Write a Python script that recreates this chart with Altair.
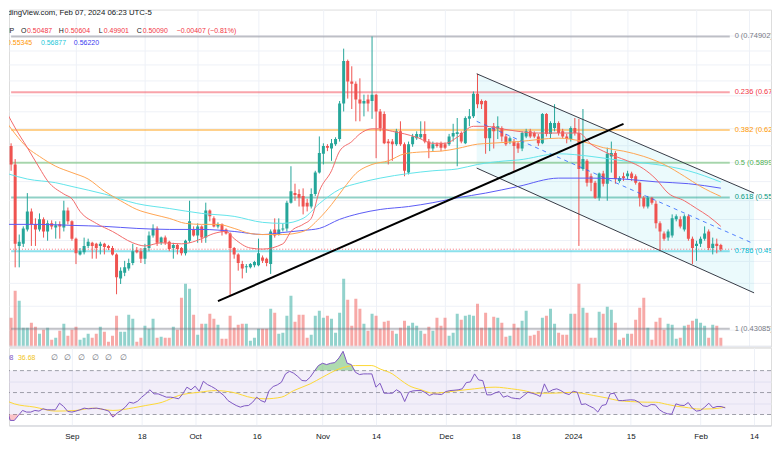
import altair as alt
import pandas as pd
from datetime import datetime, timezone

FONT = "Liberation Sans"

# ---------------- data (daily candles from 2023-08-15) ----------------
start_day = "2023-08-15"
opens = [
    .635, .609, .588, .504, .506, .520, .538, .525, .520, .530,
    .518, .526, .522, .525, .522, .539, .528, .511, .496, .498,
    .504, .507, .506, .504, .506, .504, .502, .496, .474, .479,
    .483, .488, .500, .499, .492, .502, .514, .521, .507, .512,
    .508, .502, .505, .502, .497, .509, .520, .514, .523, .512,
    .539, .531, .523, .525, .520, .516, .502, .496, .487, .484,
    .484, .486, .486, .493, .492, .487, .520, .515, .520, .521,
    .547, .557, .556, .554, .547, .543, .556, .579, .600, .609,
    .606, .611, .617, .660, .715, .688, .685, .665, .660, .665,
    .663, .671, .650, .647, .614, .614, .611, .626, .611, .579,
    .611, .618, .619, .623, .614, .606, .611, .612, .611, .611,
    .620, .623, .624, .612, .641, .644, .672, .663, .663, .618,
    .632, .629, .630, .620, .614, .614, .612, .606, .620, .626,
    .624, .620, .612, .647, .623, .630, .636, .626, .620, .617,
    .630, .624, .583, .592, .575, .568, .552, .578, .567, .597,
    .601, .570, .575, .575, .578, .575, .568, .552, .543, .552,
    .546, .526, .516, .512, .514, .530, .530, .520, .533, .511,
    .504, .506, .511, .518, .502, .506, .50487,
]
highs = [
    .641, .612, .594, .515, .523, .557, .541, .531, .536, .532,
    .529, .529, .528, .528, .549, .542, .529, .512, .502, .512,
    .511, .508, .507, .508, .507, .505, .504, .497, .484, .490,
    .492, .506, .503, .502, .506, .518, .525, .523, .513, .514,
    .509, .507, .506, .503, .510, .549, .523, .526, .524, .547,
    .540, .533, .527, .526, .521, .517, .503, .497, .490, .487,
    .488, .490, .511, .495, .493, .520, .531, .531, .526, .549,
    .586, .567, .561, .562, .551, .562, .581, .620, .612, .611,
    .617, .619, .663, .732, .717, .708, .688, .692, .671, .671,
    .74902, .672, .653, .650, .617, .617, .629, .638, .613, .614,
    .623, .626, .638, .638, .617, .614, .613, .614, .613, .623,
    .635, .642, .626, .644, .653, .675, .698, .665, .664, .630,
    .636, .644, .632, .623, .620, .617, .614, .626, .629, .629,
    .626, .623, .648, .648, .638, .659, .638, .629, .623, .632,
    .642, .641, .653, .594, .578, .570, .579, .581, .607, .614,
    .603, .575, .579, .581, .580, .577, .569, .554, .554, .553,
    .549, .528, .518, .520, .535, .535, .533, .535, .535, .513,
    .509, .513, .523, .520, .512, .511, .50604,
]
lows = [
    .607, .581, .484, .484, .503, .518, .504, .504, .518, .512,
    .509, .520, .511, .511, .518, .525, .509, .487, .495, .496,
    .502, .492, .492, .496, .496, .500, .495, .460, .469, .476,
    .481, .486, .497, .488, .487, .499, .512, .504, .505, .505,
    .499, .492, .496, .495, .495, .507, .513, .507, .507, .507,
    .528, .522, .521, .514, .515, .459, .492, .481, .474, .479,
    .483, .484, .485, .488, .485, .478, .512, .514, .518, .518,
    .546, .549, .543, .535, .538, .541, .554, .578, .588, .603,
    .592, .609, .614, .650, .666, .653, .638, .638, .644, .650,
    .641, .595, .626, .611, .588, .592, .609, .609, .575, .577,
    .608, .616, .617, .612, .595, .603, .607, .603, .605, .609,
    .614, .586, .612, .611, .632, .642, .654, .653, .600, .603,
    .606, .617, .614, .609, .611, .581, .601, .603, .618, .618,
    .618, .609, .611, .620, .618, .626, .621, .618, .612, .614,
    .621, .504, .581, .564, .559, .551, .549, .564, .549, .579,
    .567, .568, .570, .572, .570, .566, .543, .541, .541, .545,
    .521, .499, .509, .509, .512, .528, .521, .518, .509, .487,
    .490, .503, .509, .500, .496, .497, .49901,
]
closes = [
    .611, .588, .506, .508, .521, .538, .525, .520, .530, .518,
    .526, .523, .524, .523, .539, .528, .511, .497, .499, .504,
    .508, .504, .502, .506, .503, .502, .496, .475, .481, .484,
    .488, .499, .498, .492, .502, .514, .521, .507, .512, .507,
    .501, .505, .501, .497, .509, .528, .514, .523, .512, .539,
    .533, .523, .525, .518, .516, .502, .496, .488, .483, .485,
    .487, .489, .497, .490, .488, .518, .514, .520, .521, .547,
    .559, .555, .552, .543, .543, .556, .579, .601, .609, .607,
    .612, .617, .660, .715, .688, .685, .665, .660, .663, .660,
    .671, .650, .630, .612, .612, .611, .626, .611, .581, .611,
    .620, .623, .623, .614, .606, .611, .609, .607, .607, .620,
    .624, .625, .614, .642, .644, .672, .659, .659, .618, .630,
    .626, .632, .620, .611, .618, .609, .606, .624, .626, .620,
    .620, .612, .647, .623, .636, .636, .624, .620, .617, .630,
    .624, .583, .594, .568, .568, .552, .578, .567, .600, .601,
    .572, .573, .573, .578, .573, .568, .552, .543, .552, .547,
    .526, .518, .511, .518, .531, .533, .523, .533, .511, .502,
    .506, .511, .516, .502, .506, .504, .50090,
]
volumes = [
    29, 29, 56, 46, 19, 19, 24, 20, 13, 17,
    19, 7, 9, 16, 23, 11, 17, 20, 7, 9,
    13, 9, 13, 20, 15, 5, 11, 31, 15, 15,
    32, 28, 5, 9, 21, 18, 28, 9, 10, 9,
    9, 20, 17, 49, 63, 58, 32, 12, 23, 23,
    33, 28, 22, 8, 8, 31, 19, 22, 23, 23,
    6, 9, 18, 18, 18, 38, 34, 13, 14, 31,
    51, 25, 32, 32, 9, 12, 31, 36, 29, 31,
    28, 14, 34, 68, 47, 21, 48, 38, 23, 16,
    33, 31, 18, 25, 26, 16, 13, 19, 26, 21,
    24, 21, 16, 13, 20, 16, 29, 21, 29, 11,
    14, 33, 27, 31, 32, 31, 43, 19, 34, 19,
    30, 29, 24, 10, 11, 23, 19, 26, 36, 11,
    12, 16, 29, 31, 38, 23, 14, 12, 12, 33,
    33, 63, 39, 34, 9, 9, 35, 33, 40, 37,
    24, 7, 9, 13, 13, 27, 39, 49, 19, 7,
    25, 29, 17, 23, 22, 8, 9, 21, 22, 26,
    28, 24, 21, 9, 22, 21, 9,
]
rsi = [
    45.8, 38.2, 24.6, 24.6, 29.1, 33.7, 32.2, 32.2, 33.7, 33.1,
    35.2, 34.3, 34.3, 34.3, 40.3, 37.3, 32.8, 32.2, 33.1, 34.3,
    35.8, 35.2, 35.5, 35.8, 35.2, 34.3, 33.1, 27.6, 31.2, 33.7,
    36.7, 41.2, 40.3, 42.1, 45.8, 48.8, 52.5, 48.8, 48.8, 47.3,
    45.8, 45.8, 45.2, 44.3, 48.8, 54.9, 52.5, 55.8, 51.2, 60.3,
    57.3, 55.5, 53.3, 50.3, 47.3, 42.7, 40.3, 38.2, 36.7, 37.9,
    38.2, 41.2, 45.8, 42.7, 41.2, 51.8, 55.5, 57.0, 59.4, 67.0,
    69.4, 67.6, 64.6, 61.0, 60.6, 64.0, 69.4, 74.6, 76.7, 75.5,
    76.7, 77.3, 81.5, 87.6, 76.7, 75.5, 68.5, 66.4, 67.0, 67.0,
    67.0, 54.9, 58.5, 49.4, 49.4, 49.4, 52.5, 50.3, 41.8, 50.3,
    51.5, 51.8, 51.8, 50.0, 47.3, 48.8, 48.5, 48.2, 50.9, 51.8,
    52.1, 52.5, 53.4, 59.1, 59.7, 67.0, 61.5, 60.9, 47.9, 47.9,
    49.7, 50.9, 45.8, 47.0, 45.2, 44.6, 44.3, 47.3, 50.3, 49.4,
    48.2, 46.4, 57.9, 50.3, 52.5, 53.4, 51.8, 49.4, 48.2, 51.2,
    50.3, 39.1, 39.7, 37.6, 35.8, 32.2, 38.2, 39.1, 48.8, 49.4,
    42.7, 42.7, 43.1, 43.4, 43.1, 41.2, 37.9, 37.3, 39.1, 38.8,
    34.3, 31.9, 30.6, 30.3, 39.7, 38.5, 38.2, 40.9, 35.8, 33.1,
    33.7, 36.7, 40.3, 36.1, 37.3, 37.3, 36.08,
]
rsi_ma_day = [0, 3, 8, 13, 18, 22, 27, 32, 35, 39, 43, 48, 52, 56, 61, 64, 68, 71, 75, 78,
              82, 86, 90, 92, 95, 97, 99, 102, 105, 108, 111, 115, 117, 120, 124, 127, 130,
              134, 139, 141, 144, 147, 150, 153, 157, 159, 162, 164, 166, 170, 173, 176]
rsi_ma_val = [44.3, 39.7, 36.7, 33.1, 33.7, 35.8, 33.7, 36.1, 38.2, 41.2, 47.3, 50.3, 51.8,
              50.3, 45.2, 44.3, 45.8, 51.8, 57.9, 64.0, 71.5, 74.6, 74.6, 71.5, 67.0, 61.5,
              56.4, 52.5, 49.4, 50.3, 51.8, 53.4, 54.3, 54.9, 53.4, 51.8, 49.4, 49.4, 50.3,
              49.4, 47.3, 45.2, 42.7, 41.8, 41.2, 41.2, 39.1, 37.6, 36.7, 34.9, 35.2, 36.68]

# moving averages
ma_red_day = [0, 2, 5, 8, 10, 14, 16, 18, 22, 26, 31, 34, 38, 43, 45, 48, 51, 54, 56, 60, 63,
              68, 70, 73, 75, 77, 80, 82, 85, 87, 90, 92, 95, 98, 101, 105, 108, 111, 115,
              118, 122, 126, 131, 136, 141, 144, 147, 150, 153, 157, 160, 163, 167, 170, 173, 176]
ma_red_val = [.648, .630, .607, .584, .570, .556, .551, .538, .526, .518, .507, .504, .507,
              .506, .507, .511, .516, .518, .511, .502, .501, .506, .518, .525, .531, .559,
              .581, .603, .614, .623, .629, .629, .626, .623, .619, .612, .612, .619, .632,
              .632, .629, .626, .624, .624, .624, .611, .603, .597, .592, .583, .572, .557,
              .549, .541, .533, .523]
ma_orange_day = [0, 2, 5, 8, 12, 16, 20, 24, 28, 32, 36, 40, 44, 48, 52, 56, 60, 63, 68, 73,
                 77, 80, 83, 86, 90, 94, 98, 102, 107, 111, 116, 119, 126, 136, 142, 147, 152,
                 157, 162, 167, 171, 176]
ma_orange_val = [.636, .623, .607, .597, .586, .579, .572, .559, .549, .540, .535, .531, .526,
                 .525, .525, .521, .516, .515, .515, .518, .531, .545, .562, .578, .588, .592,
                 .600, .602, .603, .606, .611, .612, .614, .618, .614, .607, .603, .597, .588,
                 .575, .564, .55345]
ma_cyan_day = [0, 5, 12, 16, 24, 32, 40, 48, 56, 63, 68, 73, 77, 82, 87, 92, 99, 105, 111,
               116, 123, 126, 136, 144, 152, 160, 168, 176]
ma_cyan_val = [.578, .572, .568, .564, .556, .546, .541, .536, .533, .527, .526, .531, .546,
               .561, .568, .573, .578, .581, .583, .588, .592, .593, .600, .597, .592, .588,
               .581, .56877]
ma_blue_day = [0, 8, 16, 24, 32, 40, 48, 56, 63, 68, 73, 77, 82, 87, 92, 99, 105, 111, 118,
               126, 136, 144, 152, 160, 168, 176]
ma_blue_val = [.525, .525, .524, .523, .521, .520, .520, .518, .515, .517, .519, .521, .530,
               .536, .540, .543, .547, .552, .557, .564, .573, .573, .572, .569, .567, .5622]

# fibonacci retracement
fib_levels = ["0", "0.236", "0.382", "0.5", "0.618", "0.786", "1"]
fib_prices = [0.74902, 0.67393, 0.62748, 0.58994, 0.55239, 0.49894, 0.43085]
fib_colors = ["#787b86", "#f23645", "#ff9800", "#4caf50", "#089981", "#00bcd4", "#787b86"]

# drawings (day index, price)
channel_day = [115.8, 184.2]
channel_top = [0.698, 0.557]
channel_bot = [0.584, 0.4612]
channel_mid = [0.638, 0.506]
trend_day = [52.0, 152.0]
trend_price = [0.454, 0.635]
last_close = 0.50090

tick_dates = ["2023-09-01", "2023-09-18", "2023-10-01", "2023-10-16", "2023-11-01", "2023-11-14",
              "2023-12-01", "2023-12-18", "2024-01-01", "2024-01-15", "2024-02-01", "2024-02-14"]
tick_labels = ["Sep", "18", "Oct", "16", "Nov", "14", "Dec", "18", "2024", "15", "Feb", "14"]

# ---------------- helpers ----------------
DAY = 86400000.0
base_ms = datetime.strptime(start_day, "%Y-%m-%d").replace(tzinfo=timezone.utc).timestamp() * 1000


def day_ms(i):
    return base_ms + i * DAY


def date_ms(s):
    return datetime.strptime(s, "%Y-%m-%d").replace(tzinfo=timezone.utc).timestamp() * 1000


W = 764
H_MAIN = 338
H_RSI = 78
X_DOMAIN = [day_ms(1.709), day_ms(187.14)]
xscale = alt.Scale(domain=X_DOMAIN)
tick_ms = [date_ms(d) for d in tick_dates]
label_expr = "[" + ",".join("'%s'" % l for l in tick_labels) + "][indexof([" + \
    ",".join("'%s'" % d for d in tick_dates) + "], utcFormat(datum.value, '%Y-%m-%d'))]"

GRID = "#eef1f7"
main_xaxis = alt.Axis(values=tick_ms, grid=True, gridColor=GRID, labels=False, ticks=False,
                      domain=False, title=None)
price_scale = alt.Scale(type="log", domain=[0.41656, 0.78817], nice=False, zero=False)
price_grid = [0.43, 0.45, 0.47, 0.49, 0.51, 0.53, 0.55, 0.57, 0.59, 0.61, 0.63, 0.65,
              0.67, 0.69, 0.71, 0.73, 0.75]
price_axis = alt.Axis(values=price_grid, grid=True, gridColor=GRID, labels=False, ticks=False,
                      domain=False, title=None)


def X(field="t"):
    return alt.X(f"{field}:T", scale=xscale, axis=main_xaxis, title=None)


def Yp(field):
    return alt.Y(f"{field}:Q", scale=price_scale, axis=price_axis, title=None)


UP = "#26a69a"
DOWN = "#ef5350"
n = len(closes)
assert len(opens) == n and len(highs) == n and len(lows) == n and len(volumes) == n and len(rsi) == n

candles = pd.DataFrame({
    "t": [day_ms(i) for i in range(n)],
    "open": opens, "high": highs, "low": lows, "close": closes, "vol": volumes,
})
dir_color = alt.condition("datum.close >= datum.open", alt.value(UP), alt.value(DOWN))

vol_chart = alt.Chart(candles).mark_bar(size=3, opacity=0.5, clip=True).encode(
    x=X(),
    y=alt.Y("vol:Q", scale=alt.Scale(domain=[0, H_MAIN]), axis=None),
    color=dir_color,
)

wicks = alt.Chart(candles).mark_rule(strokeWidth=1, clip=True).encode(
    x=X(), y=Yp("low"), y2="high", color=dir_color)
bodies = alt.Chart(candles).mark_bar(size=3, clip=True).encode(
    x=X(), y=Yp("open"), y2="close", color=dir_color)

chan_df = pd.DataFrame({"t": [day_ms(d) for d in channel_day], "top": channel_top,
                        "bot": channel_bot, "mid": channel_mid})
chan_fill = alt.Chart(chan_df).mark_area(color="#00bcd4", opacity=0.08, clip=True).encode(
    x=X(), y=Yp("top"), y2="bot")
chan_top = alt.Chart(chan_df).mark_line(color="#363a45", strokeWidth=1, clip=True).encode(
    x=X(), y=Yp("top"))
chan_bot = alt.Chart(chan_df).mark_line(color="#363a45", strokeWidth=1, clip=True).encode(
    x=X(), y=Yp("bot"))
chan_mid = alt.Chart(chan_df).mark_line(color="#2962ff", strokeWidth=1, strokeDash=[4, 4],
                                        opacity=0.8, clip=True).encode(x=X(), y=Yp("mid"))

trend_df = pd.DataFrame({"t": [day_ms(d) for d in trend_day], "p": trend_price})
trend = alt.Chart(trend_df).mark_line(color="#000000", strokeWidth=2, clip=True).encode(
    x=X(), y=Yp("p"))

fib_df = pd.DataFrame({
    "t0": [day_ms(1.0)] * 7, "t1": [day_ms(178.2)] * 7, "tl": [day_ms(179.4)] * 7,
    "p": fib_prices, "col": fib_colors,
    "label": [f"{lv} ({p:.5f})" for lv, p in zip(fib_levels, fib_prices)],
})
fib_lines = alt.Chart(fib_df).mark_rule(strokeWidth=2, opacity=0.45, clip=True).encode(
    x=X("t0"), x2="t1", y=Yp("p"), color=alt.Color("col:N", scale=None))
fib_text = alt.Chart(fib_df).mark_text(align="left", baseline="middle", fontSize=7.5, font=FONT,
                                       clip=True).encode(
    x=X("tl"), y=Yp("p"), text="label:N", color=alt.Color("col:N", scale=None))

last_df = pd.DataFrame({"p": [last_close]})
last_line = alt.Chart(last_df).mark_rule(color="#f23645", strokeDash=[1, 2], opacity=0.7,
                                         clip=True).encode(y=Yp("p"))


def ma_chart(days, vals, color):
    df = pd.DataFrame({"t": [day_ms(d) for d in days], "p": vals})
    return alt.Chart(df).mark_line(color=color, strokeWidth=1, interpolate="monotone",
                                   clip=True).encode(x=X(), y=Yp("p"))


ma_blue = ma_chart(ma_blue_day, ma_blue_val, "#5b5bf5")
ma_cyan = ma_chart(ma_cyan_day, ma_cyan_val, "#62e4ea")
ma_orange = ma_chart(ma_orange_day, ma_orange_val, "#ffa552")
ma_red = ma_chart(ma_red_day, ma_red_val, "#f26a6a")

price_group = alt.layer(chan_fill, fib_lines, wicks, bodies, ma_blue, ma_cyan, ma_orange, ma_red,
                        chan_top, chan_bot, chan_mid, trend, last_line, fib_text)

dummy = pd.DataFrame({"d": [0]})
PAGE = 8


def txt(label, ref_x, ref_y, color, top=PAGE, size=7):
    return alt.Chart(dummy).mark_text(text=label, align="left", baseline="middle", fontSize=size,
                                      font=FONT, color=color, clip=True).encode(
        x=alt.value(ref_x - PAGE), y=alt.value(ref_y - top))


DARK = "#131722"
RED = "#f23645"
header = [
    txt("TradingView.com, Feb 07, 2024 06:23 UTC-5", -5, 11, DARK, size=7.8),
    txt("AMP", -2, 29, DARK),
    txt("O", 20, 29, DARK), txt("0.50487", 26, 29, RED),
    txt("H", 58, 29, DARK), txt("0.50604", 64, 29, RED),
    txt("L", 98, 29, DARK), txt("0.49901", 103, 29, RED),
    txt("C", 136, 29, DARK), txt("0.50090", 142, 29, RED),
    txt("\u22120.00407 (\u22120.81%)", 176, 29, RED),
    txt("0.55345", 6, 42, "#ff9800"),
    txt("0.56877", 40, 42, "#22c7d8"),
    txt("0.56220", 73, 42, "#3b3bf0"),
]
sep = alt.Chart(dummy).mark_rule(color="#e0e3eb", strokeWidth=1).encode(
    x=alt.value(0), x2=alt.value(W), y=alt.value(H_MAIN - 0.5))

main = alt.layer(vol_chart, price_group, sep, *header).resolve_scale(y="independent").properties(
    width=W, height=H_MAIN)

# ---------------- RSI pane ----------------
rsi_df = pd.DataFrame({"t": [day_ms(i) for i in range(n)], "rsi": rsi})
rsi_ma_df = pd.DataFrame({"t": [day_ms(d) for d in rsi_ma_day], "v": rsi_ma_val})
rsi_scale = alt.Scale(domain=[20, 90.9], nice=False, zero=False)
rsi_axis = alt.Axis(values=[40, 60], grid=True, gridColor=GRID, labels=False, ticks=False,
                    domain=False, title=None)
rsi_xaxis = alt.Axis(values=tick_ms, labelExpr=label_expr, grid=True, gridColor=GRID, ticks=False,
                     domain=True, domainColor="#d1d4dc", labelFont=FONT, labelFontSize=8,
                     labelColor=DARK, labelPadding=7, title=None, labelOverlap=False)


def Xr(field="t"):
    return alt.X(f"{field}:T", scale=xscale, axis=rsi_xaxis, title=None)


def Yr(field):
    return alt.Y(f"{field}:Q", scale=rsi_scale, axis=rsi_axis, title=None)


band_df = pd.DataFrame({"hi": [70], "lo": [30]})
band = alt.Chart(band_df).mark_rect(color="#7e57c2", opacity=0.1).encode(
    x=alt.value(0), x2=alt.value(W), y=Yr("hi"), y2="lo")
lvl_df = pd.DataFrame({"v": [70, 50, 30]})
levels = alt.Chart(lvl_df).mark_rule(color="#787b86", strokeDash=[4, 3], opacity=0.7).encode(
    y=Yr("v"))
ob = alt.Chart(rsi_df).transform_calculate(hi="max(datum.rsi, 70)").mark_area(
    color="#4caf50", opacity=0.45, clip=True).encode(x=Xr(), y=Yr("hi"), y2=alt.datum(70))
os_ = alt.Chart(rsi_df).transform_calculate(lo="min(datum.rsi, 30)").mark_area(
    color="#f23645", opacity=0.3, clip=True).encode(x=Xr(), y=Yr("lo"), y2=alt.datum(30))
rsi_line = alt.Chart(rsi_df).mark_line(color="#7e57c2", strokeWidth=1, clip=True).encode(
    x=Xr(), y=Yr("rsi"))
rsi_ma = alt.Chart(rsi_ma_df).mark_line(color="#fdd835", strokeWidth=1, interpolate="monotone",
                                        clip=True).encode(x=Xr(), y=Yr("v"))

RSI_TOP = PAGE + H_MAIN + 1
rsi_texts = [txt("36.08", -5, 357, "#7e57c2", top=RSI_TOP),
             txt("36.68", 17, 357, "#f0c419", top=RSI_TOP)]
for rx in [50, 63, 77, 91, 104, 119]:
    rsi_texts.append(txt("\u2205", rx, 357, "#6a6d78", top=RSI_TOP, size=8))

rsi_chart = alt.layer(band, levels, ob, os_, rsi_ma, rsi_line, *rsi_texts).properties(
    width=W, height=H_RSI)

chart = alt.vconcat(main, rsi_chart, spacing=1, bounds="flush").properties(
    padding=0, background="white"
).configure_view(stroke=None).configure(font=FONT)

chart.save("out.html", embed_options={"renderer": "svg", "actions": False})
